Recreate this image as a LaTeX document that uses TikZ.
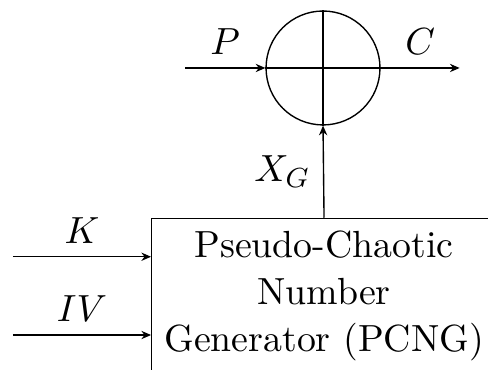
\documentclass[11pt,tikz,border=0pt]{standalone}
\usepackage{tikz}
\usetikzlibrary{positioning, arrows.meta, calc}

\begin{document}
\begin{tikzpicture}[
        block/.style={rectangle, draw, align=center},
        xorop/.style={circle, draw, minimum size=1.16cm, inner sep=0pt},
        flow/.style={-{Stealth[length=2.8pt, width=2.4pt]}}
      ]
        \useasboundingbox (0,0) rectangle (4.969,-3.758);
        \node[xorop] (xor) at (3.289,-0.692) {};
        \draw (xor.north) -- (xor.south) (xor.west) -- (xor.east);
        \node[block, anchor=north west] (pcng) at (1.538,-2.217)
          {Pseudo-Chaotic\\Number\\Generator (PCNG)};
        \coordinate[left=0.818cm of xor.west] (pin);
        \coordinate[right=0.804cm of xor.east] (cout);
        \coordinate (kin) at (0.132,-2.614);
        \coordinate (ivin) at (0.132,-3.411);
        \draw[flow] (pin) -- node[above] {$P$} (xor.west);
        \draw[flow] (xor.east) -- node[above] {$C$} (cout);
        \draw[flow] (pcng.north) -- node[left] {$X_G$} (xor.south);
        \draw[flow] (kin) -- node[above] {$K$} (kin -| pcng.west);
        \draw[flow] (ivin) -- node[above] {$IV$} (ivin -| pcng.west);
      \end{tikzpicture}
\end{document}
